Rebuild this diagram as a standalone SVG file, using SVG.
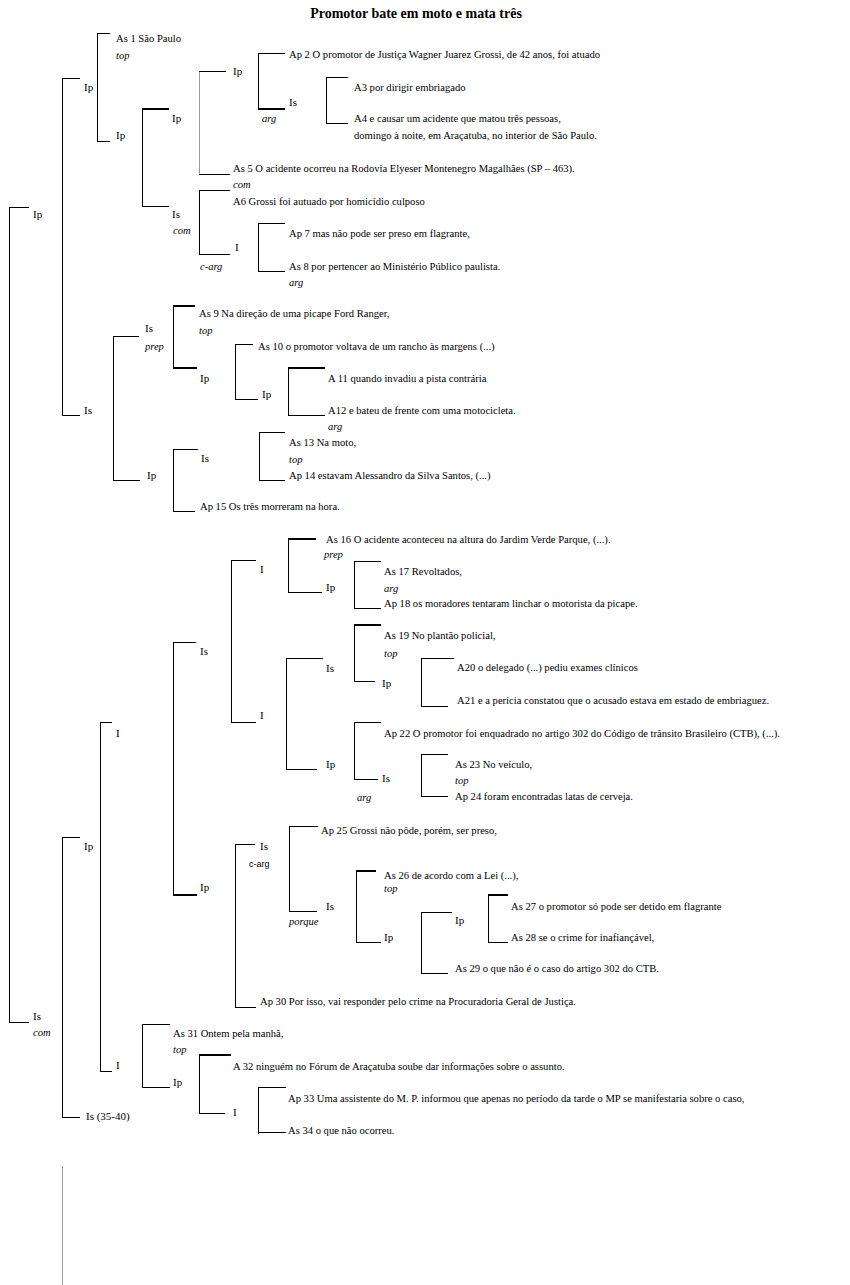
<svg xmlns="http://www.w3.org/2000/svg" width="850" height="1285" viewBox="0 0 850 1285">
<style>
text{font-family:"Liberation Serif","Times New Roman",serif;fill:#000}
.t{font-size:10.6px}
.n{font-size:11px}
.i{font-size:10.5px;font-style:italic}
.s{font-family:"Liberation Sans",Arial,sans-serif;font-size:9px}
.h{font-size:14px;font-weight:bold}
#connectors line{stroke:#000;stroke-width:1;shape-rendering:crispEdges}
#connectors line.b{stroke-width:2.5}
#connectors line.g{stroke:#999}
</style>
<rect width="850" height="1285" fill="#fff"/>
<text class="h" x="416" y="18" text-anchor="middle">Promotor bate em moto e mata três</text>
<g id="connectors">
<line x1="9" y1="207" x2="9" y2="1022"/><line x1="9" y1="207" x2="29" y2="207"/><line x1="9" y1="1022" x2="29" y2="1022"/>
<line x1="62" y1="78" x2="62" y2="415"/><line x1="62" y1="78" x2="80" y2="78"/><line x1="62" y1="415" x2="80" y2="415"/>
<line x1="97" y1="33" x2="97" y2="141"/><line x1="97" y1="33" x2="110" y2="33"/><line x1="97" y1="141" x2="110" y2="141"/>
<line x1="142" y1="109" x2="142" y2="206"/><line class="b" x1="142" y1="109" x2="169" y2="109"/><line x1="142" y1="206" x2="169" y2="206"/>
<line class="g" x1="199" y1="71" x2="199" y2="174"/><line x1="199" y1="71" x2="226" y2="71"/><line x1="199" y1="174" x2="230" y2="174"/>
<line x1="258" y1="53" x2="258" y2="109"/><line x1="258" y1="53" x2="285" y2="53"/><line class="b" x1="258" y1="109" x2="285" y2="109"/>
<line x1="326" y1="77" x2="326" y2="123"/><line x1="326" y1="77" x2="348" y2="77"/><line x1="326" y1="123" x2="348" y2="123"/>
<line x1="199" y1="190" x2="199" y2="254"/><line x1="199" y1="190" x2="230" y2="190"/><line x1="199" y1="254" x2="230" y2="254"/>
<line x1="258" y1="223" x2="258" y2="271"/><line x1="258" y1="223" x2="285" y2="223"/><line x1="258" y1="271" x2="285" y2="271"/>
<line x1="113" y1="336" x2="113" y2="480"/><line x1="113" y1="336" x2="139" y2="336"/><line x1="113" y1="480" x2="140" y2="480"/>
<line x1="173" y1="306" x2="173" y2="368"/><line class="b" x1="173" y1="306" x2="195" y2="306"/><line class="b" x1="173" y1="368" x2="197" y2="368"/>
<line x1="235" y1="344" x2="235" y2="399"/><line x1="235" y1="344" x2="253" y2="344"/><line x1="235" y1="399" x2="258" y2="399"/>
<line x1="288" y1="368" x2="288" y2="415"/><line class="b" x1="288" y1="368" x2="325" y2="368"/><line x1="288" y1="415" x2="325" y2="415"/>
<line x1="173" y1="449" x2="173" y2="511"/><line x1="173" y1="449" x2="198" y2="449"/><line x1="173" y1="511" x2="195" y2="511"/>
<line x1="259" y1="432" x2="259" y2="480"/><line x1="259" y1="432" x2="285" y2="432"/><line x1="259" y1="480" x2="285" y2="480"/>
<line x1="62" y1="837" x2="62" y2="1117"/><line x1="62" y1="837" x2="80" y2="837"/><line x1="62" y1="1117" x2="80" y2="1117"/>
<line x1="100" y1="722" x2="100" y2="1071"/><line x1="100" y1="722" x2="112" y2="722"/><line x1="100" y1="1071" x2="112" y2="1071"/>
<line x1="173" y1="642" x2="173" y2="895"/><line x1="173" y1="642" x2="196" y2="642"/><line class="b" x1="173" y1="895" x2="197" y2="895"/>
<line x1="231" y1="560" x2="231" y2="722"/><line x1="231" y1="560" x2="256" y2="560"/><line x1="231" y1="722" x2="256" y2="722"/>
<line x1="288" y1="539" x2="288" y2="592"/><line class="b" x1="288" y1="539" x2="316" y2="539"/><line x1="288" y1="592" x2="322" y2="592"/>
<line x1="354" y1="561" x2="354" y2="608"/><line x1="354" y1="561" x2="381" y2="561"/><line x1="354" y1="608" x2="381" y2="608"/>
<line x1="286" y1="658" x2="286" y2="769"/><line x1="286" y1="658" x2="323" y2="658"/><line x1="286" y1="769" x2="317" y2="769"/>
<line x1="354" y1="625" x2="354" y2="681"/><line class="b" x1="354" y1="625" x2="381" y2="625"/><line x1="354" y1="681" x2="375" y2="681"/>
<line x1="421" y1="658" x2="421" y2="706"/><line x1="421" y1="658" x2="454" y2="658"/><line x1="421" y1="706" x2="448" y2="706"/>
<line x1="354" y1="722" x2="354" y2="779"/><line x1="354" y1="722" x2="381" y2="722"/><line x1="354" y1="779" x2="378" y2="779"/>
<line x1="421" y1="754" x2="421" y2="796"/><line x1="421" y1="754" x2="448" y2="754"/><line x1="421" y1="796" x2="448" y2="796"/>
<line x1="235" y1="844" x2="235" y2="1007"/><line x1="235" y1="844" x2="255" y2="844"/><line x1="235" y1="1007" x2="256" y2="1007"/>
<line x1="289" y1="826" x2="289" y2="911"/><line x1="289" y1="826" x2="318" y2="826"/><line x1="289" y1="911" x2="317" y2="911"/>
<line x1="356" y1="871" x2="356" y2="942"/><line class="b" x1="356" y1="871" x2="376" y2="871"/><line x1="356" y1="942" x2="381" y2="942"/>
<line x1="421" y1="912" x2="421" y2="973"/><line x1="421" y1="912" x2="452" y2="912"/><line x1="421" y1="973" x2="448" y2="973"/>
<line x1="488" y1="895" x2="488" y2="942"/><line class="b" x1="488" y1="895" x2="508" y2="895"/><line x1="488" y1="942" x2="508" y2="942"/>
<line x1="142" y1="1024" x2="142" y2="1087"/><line x1="142" y1="1024" x2="170" y2="1024"/><line x1="142" y1="1087" x2="170" y2="1087"/>
<line x1="199" y1="1055" x2="199" y2="1113"/><line class="b" x1="199" y1="1055" x2="231" y2="1055"/><line x1="199" y1="1113" x2="225" y2="1113"/>
<line x1="258" y1="1087" x2="258" y2="1134"/><line x1="258" y1="1087" x2="286" y2="1087"/><line x1="258" y1="1132" x2="286" y2="1132"/>
<line class="g" x1="62" y1="1166" x2="62" y2="1285"/>
</g>
<g id="n-root-ip"><text class="n" x="33" y="218">Ip</text></g>
<g id="n-root-is"><text class="n" x="33" y="1020">Is</text><text class="i" x="33" y="1036">com</text></g>
<g id="n-ip-a"><text class="n" x="84" y="91">Ip</text></g>
<g id="n-is-a"><text class="n" x="84" y="414">Is</text></g>
<g id="n-as1"><text class="t" x="116" y="42">As 1 São Paulo</text><text class="i" x="116" y="59">top</text></g>
<g id="n-ip-b"><text class="n" x="116" y="139">Ip</text></g>
<g id="n-ip-c"><text class="n" x="172" y="122">Ip</text></g>
<g id="n-is-c"><text class="n" x="172" y="218">Is</text><text class="i" x="173" y="234">com</text></g>
<g id="n-ip-d"><text class="n" x="233" y="75">Ip</text></g>
<g id="n-as5"><text class="t" x="233" y="172">As 5 O acidente ocorreu na Rodovia Elyeser Montenegro Magalhães (SP – 463).</text><text class="i" x="233" y="188">com</text></g>
<g id="n-ap2"><text class="t" x="289" y="58">Ap 2 O promotor de Justiça Wagner Juarez Grossi, de 42 anos, foi atuado</text></g>
<g id="n-is-d"><text class="n" x="289" y="106">Is</text><text class="i" x="262" y="122">arg</text></g>
<g id="n-a3"><text class="t" x="354" y="91">A3 por dirigir embriagado</text></g>
<g id="n-a4"><text class="t" x="354" y="122">A4 e causar um acidente que matou três pessoas,</text><text class="t" x="354" y="139">domingo à noite, em Araçatuba, no interior de São Paulo.</text></g>
<g id="n-a6"><text class="t" x="233" y="205">A6 Grossi foi autuado por homicídio culposo</text></g>
<g id="n-i-a"><text class="n" x="235" y="251">I</text><text class="i" x="200" y="270">c-arg</text></g>
<g id="n-ap7"><text class="t" x="289" y="237">Ap 7 mas não pode ser preso em flagrante,</text></g>
<g id="n-as8"><text class="t" x="289" y="270">As 8 por pertencer ao Ministério Público paulista.</text><text class="i" x="289" y="286">arg</text></g>
<g id="n-is-e"><text class="n" x="145" y="332">Is</text><text class="i" x="145" y="350">prep</text></g>
<g id="n-ip-e"><text class="n" x="147" y="479">Ip</text></g>
<g id="n-as9"><text class="t" x="199" y="317">As 9 Na direção de uma picape Ford Ranger,</text><text class="i" x="199" y="334">top</text></g>
<g id="n-ip-f"><text class="n" x="200" y="382">Ip</text></g>
<g id="n-as10"><text class="t" x="258" y="350">As 10 o promotor voltava de um rancho às margens (...)</text></g>
<g id="n-ip-g"><text class="n" x="262" y="398">Ip</text></g>
<g id="n-a11"><text class="t" x="328" y="382">A 11 quando invadiu a pista contrária</text></g>
<g id="n-a12"><text class="t" x="328" y="414">A12 e bateu de frente com uma motocicleta.</text><text class="i" x="328" y="430">arg</text></g>
<g id="n-is-f"><text class="n" x="201" y="462">Is</text></g>
<g id="n-ap15"><text class="t" x="200" y="510">Ap 15 Os três morreram na hora.</text></g>
<g id="n-as13"><text class="t" x="289" y="446">As 13  Na moto,</text><text class="i" x="289" y="463">top</text></g>
<g id="n-ap14"><text class="t" x="289" y="479">Ap 14 estavam Alessandro da Silva Santos, (...)</text></g>
<g id="n-ip-h"><text class="n" x="84" y="850">Ip</text></g>
<g id="n-is3540"><text class="n" x="86" y="1120">Is (35-40)</text></g>
<g id="n-i-b"><text class="n" x="116" y="737">I</text></g>
<g id="n-i-c"><text class="n" x="116" y="1069">I</text></g>
<g id="n-is-g"><text class="n" x="200" y="655">Is</text></g>
<g id="n-ip-i"><text class="n" x="200" y="891">Ip</text></g>
<g id="n-i-d"><text class="n" x="260" y="573">I</text></g>
<g id="n-i-e"><text class="n" x="260" y="719">I</text></g>
<g id="n-as16"><text class="t" x="326" y="543">As 16 O acidente aconteceu na altura do Jardim Verde Parque, (...).</text><text class="i" x="324" y="558">prep</text></g>
<g id="n-ip-j"><text class="n" x="326" y="591">Ip</text></g>
<g id="n-as17"><text class="t" x="384" y="575">As 17 Revoltados,</text><text class="i" x="384" y="592">arg</text></g>
<g id="n-ap18"><text class="t" x="384" y="607">Ap 18 os moradores tentaram linchar o motorista da picape.</text></g>
<g id="n-is-h"><text class="n" x="326" y="672">Is</text></g>
<g id="n-ip-k"><text class="n" x="326" y="768">Ip</text></g>
<g id="n-as19"><text class="t" x="384" y="639">As 19 No plantão policial,</text><text class="i" x="384" y="657">top</text></g>
<g id="n-ip-l"><text class="n" x="382" y="687">Ip</text></g>
<g id="n-a20"><text class="t" x="457" y="671">A20 o delegado (...) pediu exames clínicos</text></g>
<g id="n-a21"><text class="t" x="457" y="704">A21 e a perícia constatou que o acusado estava em estado de embriaguez.</text></g>
<g id="n-ap22"><text class="t" x="384" y="737">Ap 22 O promotor foi enquadrado no artigo 302 do Código de trânsito Brasileiro (CTB), (...).</text></g>
<g id="n-is-i"><text class="n" x="382" y="782">Is</text><text class="i" x="357" y="801">arg</text></g>
<g id="n-as23"><text class="t" x="455" y="768">As 23 No veículo,</text><text class="i" x="455" y="784">top</text></g>
<g id="n-ap24"><text class="t" x="455" y="800">Ap 24 foram encontradas latas de cerveja.</text></g>
<g id="n-is-j"><text class="n" x="260" y="850">Is</text><text class="s" x="249" y="867">c-arg</text></g>
<g id="n-ap30"><text class="t" x="260" y="1005">Ap 30 Por isso, vai responder pelo crime na Procuradoria Geral de Justiça.</text></g>
<g id="n-ap25"><text class="t" x="321" y="834">Ap 25 Grossi não pôde, porém, ser preso,</text></g>
<g id="n-is-k"><text class="n" x="326" y="910">Is</text><text class="i" x="289" y="925">porque</text></g>
<g id="n-as26"><text class="t" x="384" y="879">As 26 de acordo com a Lei (...),</text><text class="i" x="384" y="892">top</text></g>
<g id="n-ip-m"><text class="n" x="384" y="941">Ip</text></g>
<g id="n-ip-n"><text class="n" x="455" y="924">Ip</text></g>
<g id="n-as29"><text class="t" x="455" y="972">As 29 o que não é o caso do artigo 302 do CTB.</text></g>
<g id="n-as27"><text class="t" x="511" y="910">As 27 o promotor só pode ser detido em flagrante</text></g>
<g id="n-as28"><text class="t" x="511" y="941">As 28 se o crime for inafiançável,</text></g>
<g id="n-as31"><text class="t" x="173" y="1037">As 31 Ontem pela manhã,</text><text class="i" x="173" y="1053">top</text></g>
<g id="n-ip-o"><text class="n" x="173" y="1086">Ip</text></g>
<g id="n-a32"><text class="t" x="233" y="1070">A 32 ninguém no Fórum de Araçatuba soube dar informações sobre o assunto.</text></g>
<g id="n-i-f"><text class="n" x="233" y="1116">I</text></g>
<g id="n-ap33"><text class="t" x="288" y="1102">Ap 33 Uma assistente do M. P. informou que apenas no período da tarde o MP se manifestaria sobre o caso,</text></g>
<g id="n-as34"><text class="t" x="288" y="1134">As 34 o que não ocorreu.</text></g>
</svg>
